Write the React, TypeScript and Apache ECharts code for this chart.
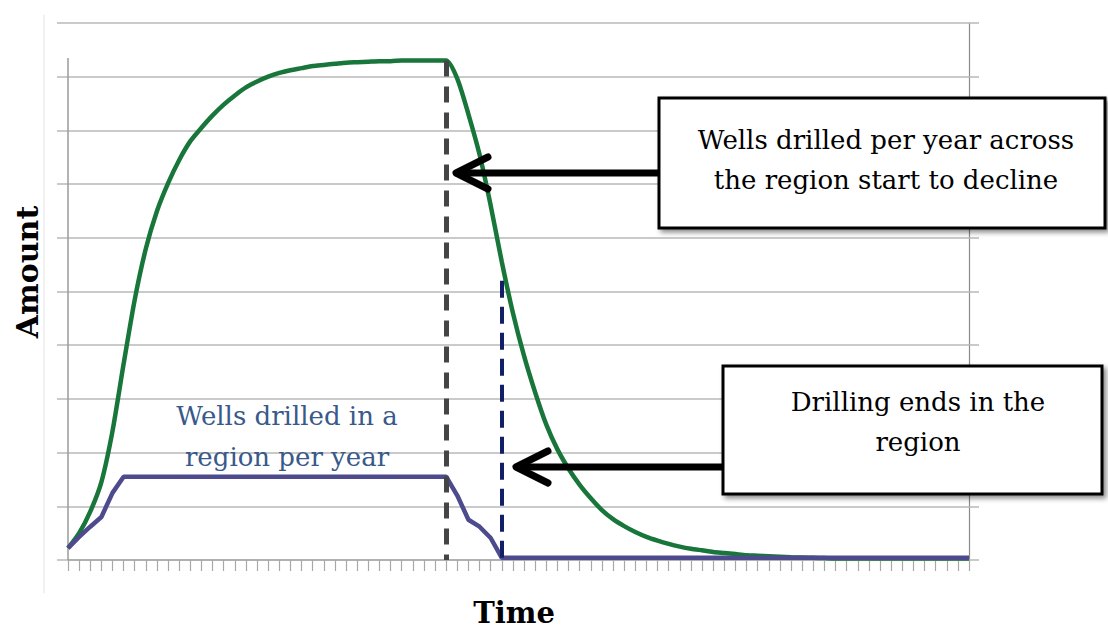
import React, { useEffect, useRef } from "react";
import * as echarts from "echarts";

const timeSteps: string[] = Array.from({ length: 82 }, (_, i) => String(i));

const regionWells: number[] = [
  0.22, 0.5, 0.9, 1.45, 2.4, 3.65, 4.85, 5.8, 6.5, 7.02,
  7.45, 7.8, 8.05, 8.28, 8.48, 8.65, 8.8, 8.91, 9.0, 9.07,
  9.12, 9.16, 9.2, 9.22, 9.24, 9.26, 9.27, 9.28, 9.29, 9.29,
  9.3, 9.3, 9.3, 9.3, 9.3, 8.96, 8.3, 7.55, 6.6, 5.55,
  4.6, 3.8, 3.12, 2.52, 2.06, 1.7, 1.4, 1.15, 0.93, 0.76,
  0.63, 0.52, 0.43, 0.36, 0.3, 0.25, 0.21, 0.18, 0.15, 0.13,
  0.11, 0.09, 0.08, 0.07, 0.06, 0.05, 0.045, 0.04, 0.035, 0.03,
  0.03, 0.03, 0.03, 0.03, 0.03, 0.03, 0.03, 0.03, 0.03, 0.03,
  0.03, 0.03,
];

const wellsPerYear: number[] = [
  0.22, 0.43, 0.62, 0.8, 1.25, 1.55, 1.55, 1.55, 1.55, 1.55,
  1.55, 1.55, 1.55, 1.55, 1.55, 1.55, 1.55, 1.55, 1.55, 1.55,
  1.55, 1.55, 1.55, 1.55, 1.55, 1.55, 1.55, 1.55, 1.55, 1.55,
  1.55, 1.55, 1.55, 1.55, 1.55, 1.2, 0.75, 0.62, 0.41, 0.04,
  0.04, 0.04, 0.04, 0.04, 0.04, 0.04, 0.04, 0.04, 0.04, 0.04,
  0.04, 0.04, 0.04, 0.04, 0.04, 0.04, 0.04, 0.04, 0.04, 0.04,
  0.04, 0.04, 0.04, 0.04, 0.04, 0.04, 0.04, 0.04, 0.04, 0.04,
  0.04, 0.04, 0.04, 0.04, 0.04, 0.04, 0.04, 0.04, 0.04, 0.04,
  0.04, 0.04,
];

const declineStart = 34;
const drillingEnd = 39;

const SERIF = "'DejaVu Serif', 'Liberation Serif', serif";

export default function App() {
  const ref = useRef<HTMLDivElement>(null);
  useEffect(() => {
    document.body.style.margin = "0";
    const chart = echarts.init(ref.current!, null, { renderer: "svg" });
    const option: any = {
      animation: false,
      backgroundColor: "#ffffff",
      grid: { left: 68, right: 139, top: 23, bottom: 70 },
      xAxis: {
        type: "category",
        data: timeSteps,
        boundaryGap: false,
        axisLine: { show: true, lineStyle: { color: "#a8a8a8", width: 1.5 } },
        axisTick: { show: true, interval: 0, length: 11, lineStyle: { color: "#a8a8a8", width: 1.2 } },
        axisLabel: { show: false },
        splitLine: { show: false },
      },
      yAxis: [
        {
          type: "value",
          min: 0,
          max: 10,
          interval: 1,
          axisLine: { show: false },
          axisTick: { show: true, length: 11, lineStyle: { color: "#b8b8b8", width: 1.5 } },
          axisLabel: { show: false },
          splitLine: { show: true, lineStyle: { color: "#b8b8b8", width: 1.5 } },
        },
        {
          type: "value",
          position: "right",
          min: 0,
          max: 10,
          interval: 1,
          axisLine: { show: true, lineStyle: { color: "#8a8a8a", width: 1.2 } },
          axisTick: { show: true, length: 10, lineStyle: { color: "#b8b8b8", width: 1.5 } },
          axisLabel: { show: false },
          splitLine: { show: false },
        },
      ],
      series: [
        {
          type: "line",
          name: "Wells drilled per year across the region",
          data: regionWells,
          symbol: "none",
          smooth: 0.25,
          lineStyle: { color: "#19763b", width: 4.5 },
          z: 3,
        },
        {
          type: "line",
          name: "Wells drilled in a region per year",
          data: wellsPerYear,
          symbol: "none",
          lineStyle: { color: "#4d4b8e", width: 4.5 },
          z: 4,
          markLine: {
            silent: true,
            symbol: "none",
            label: { show: false },
            data: [
              [
                { coord: [declineStart, regionWells[declineStart]], lineStyle: { color: "#454545", width: 5, type: [16, 10] } },
                { coord: [declineStart, 0] },
              ],
              [
                { coord: [drillingEnd, 5.2], lineStyle: { color: "#112066", width: 4, type: [17, 9] } },
                { coord: [drillingEnd, 0] },
              ],
            ],
          },
        },
      ],
      graphic: {
        elements: [
          { type: "line", z: 1, shape: { x1: 44, y1: 15, x2: 44, y2: 593 }, style: { stroke: "#ececec", lineWidth: 1.5 } },
          { type: "line", z: 1, shape: { x1: 68, y1: 58, x2: 68, y2: 560 }, style: { stroke: "#9a9a9a", lineWidth: 1.5 } },
          {
            type: "text",
            z: 50,
            x: 27,
            y: 272,
            rotation: Math.PI / 2,
            style: { text: "Amount", font: `bold 30px ${SERIF}`, fill: "#000", align: "center", verticalAlign: "middle" },
          },
          {
            type: "text",
            z: 50,
            x: 514,
            y: 613,
            style: { text: "Time", font: `bold 29px ${SERIF}`, fill: "#000", align: "center", verticalAlign: "middle" },
          },
          {
            type: "text",
            z: 50,
            x: 287,
            y: 436,
            style: {
              text: "Wells drilled in a\nregion per year",
              font: `26px ${SERIF}`,
              lineHeight: 41,
              fill: "#38598a",
              align: "center",
              verticalAlign: "middle",
            },
          },
          {
            type: "rect",
            z: 60,
            shape: { x: 659, y: 98, width: 446, height: 130 },
            style: { fill: "#fff", stroke: "#000", lineWidth: 3, shadowBlur: 5, shadowOffsetX: 3, shadowOffsetY: 3, shadowColor: "rgba(0,0,0,0.45)" },
          },
          {
            type: "text",
            z: 61,
            x: 886,
            y: 160,
            style: {
              text: "Wells drilled per year across\nthe region start to decline",
              font: `26px ${SERIF}`,
              lineHeight: 40,
              fill: "#000",
              align: "center",
              verticalAlign: "middle",
            },
          },
          { type: "line", z: 61, shape: { x1: 659, y1: 173, x2: 460, y2: 173 }, style: { stroke: "#000", lineWidth: 7 } },
          {
            type: "polyline",
            z: 61,
            shape: { points: [[488, 157], [456, 173], [488, 189]] },
            style: { stroke: "#000", lineWidth: 7, fill: "none", lineJoin: "round", lineCap: "round" },
          },
          {
            type: "rect",
            z: 60,
            shape: { x: 723, y: 366, width: 379, height: 128 },
            style: { fill: "#fff", stroke: "#000", lineWidth: 3, shadowBlur: 5, shadowOffsetX: 3, shadowOffsetY: 3, shadowColor: "rgba(0,0,0,0.45)" },
          },
          {
            type: "text",
            z: 61,
            x: 918,
            y: 422,
            style: {
              text: "Drilling ends in the\nregion",
              font: `26px ${SERIF}`,
              lineHeight: 40,
              fill: "#000",
              align: "center",
              verticalAlign: "middle",
            },
          },
          { type: "line", z: 61, shape: { x1: 723, y1: 467, x2: 520, y2: 467 }, style: { stroke: "#000", lineWidth: 7 } },
          {
            type: "polyline",
            z: 61,
            shape: { points: [[548, 451], [516, 467], [548, 483]] },
            style: { stroke: "#000", lineWidth: 7, fill: "none", lineJoin: "round", lineCap: "round" },
          },
        ],
      },
    };
    chart.setOption(option);
    return () => chart.dispose();
  }, []);
  return <div ref={ref} style={{ width: 1108, height: 630 }} />;
}
